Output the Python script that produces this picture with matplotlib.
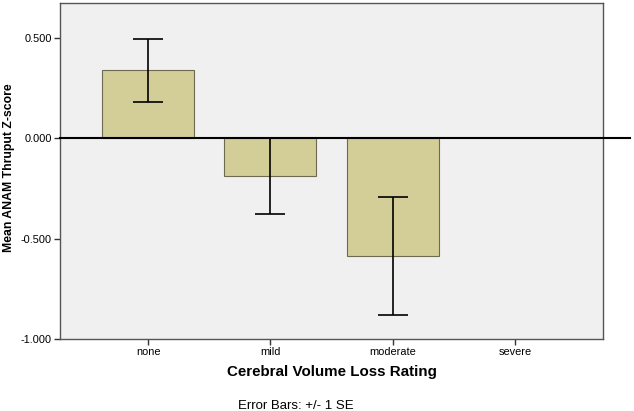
import numpy as np
import matplotlib
matplotlib.use("Agg")
import matplotlib.pyplot as plt

plt.rcParams["font.family"] = ["Liberation Sans", "DejaVu Sans"]

categories = ["none", "mild", "moderate", "severe"]
means = [0.337, -0.189, -0.587, np.nan]
se = [0.156, 0.187, 0.292, np.nan]

fig = plt.figure(figsize=(6.34, 4.11), dpi=100)
ax = fig.add_axes([60 / 634, 1 - 339 / 411, 543 / 634, 336 / 411])
ax.set_facecolor("#F0F0F0")

x = np.arange(len(categories))
ax.bar(x, means, width=0.75, color="#D3CE97", edgecolor="#6E6A50", linewidth=0.8, zorder=2)
ax.errorbar(x, means, yerr=se, fmt="none", ecolor="black", elinewidth=1.2,
            capsize=11, capthick=1.2, zorder=3)
# reference line runs a little past the right edge of the frame
ax.axhline(0, xmin=0, xmax=(630 - 60) / 543, color="black", linewidth=1.5,
           zorder=4, clip_on=False)

ax.set_xlim(-0.72, 3.72)
ax.set_ylim(-1.0, 0.672)
ax.set_yticks([0.5, 0.0, -0.5, -1.0])
ax.set_yticklabels(["0.500", "0.000", "-0.500", "-1.000"])
ax.set_xticks(x)
ax.set_xticklabels(categories)
ax.tick_params(axis="both", labelsize=7.9, color="#333333", length=4, width=1, pad=2)

for s in ax.spines.values():
    s.set_color("#555555")
    s.set_linewidth(1)

ax.set_xlabel("Cerebral Volume Loss Rating", fontsize=10.9, fontweight="bold")
ax.xaxis.set_label_coords((332 - 60) / 543, -(372 - 339) / 336)
ax.xaxis.label.set_va("center")
ax.set_ylabel("Mean ANAM Thruput Z-score", fontsize=8.8, fontweight="bold")
ax.yaxis.set_label_coords(-(60 - 9) / 543, (339 - 168) / 336)
ax.yaxis.label.set_va("center")

fig.text(296 / 634, 1 - 406 / 411, "Error Bars: +/- 1 SE", fontsize=9.5, ha="center", va="center")

fig.savefig("out.png", dpi=100)
